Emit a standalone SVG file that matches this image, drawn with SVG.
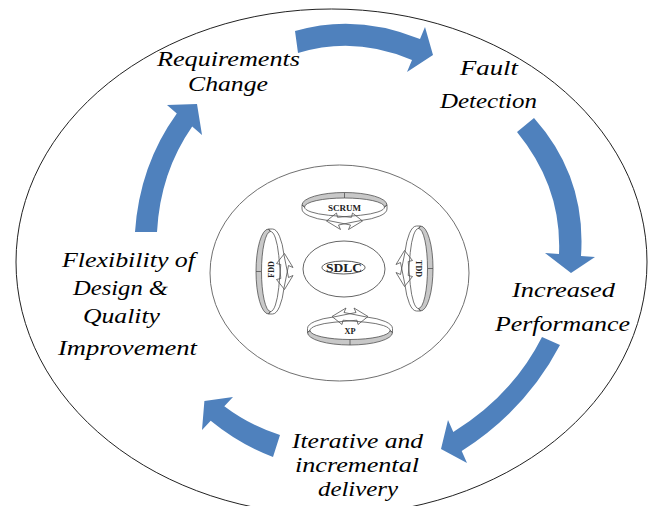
<svg xmlns="http://www.w3.org/2000/svg" xmlns:xlink="http://www.w3.org/1999/xlink" width="651" height="506" viewBox="0 0 651 506">
<style>
.lbl{font-family:"Liberation Serif","Times New Roman",serif;font-style:italic;font-size:22px;fill:#000}
.sm{font-size:20px}
.rt{font-family:"Liberation Serif","Times New Roman",serif;font-weight:bold;font-size:8px;fill:#222}
.blue{fill:#4f81bd;stroke:none}
.rl{stroke:#505050;stroke-width:0.8;fill:none}
.band{fill:#c8c8c8;stroke:#505050;stroke-width:0.8}
</style>
<defs>
<g id="ring">
<path class="band" d="M -42.5,0 A 42.5 12.5 0 0 1 42.5,0 L 40,2 A 40 9 0 0 0 -40,2 Z"/>
<path class="rl" d="M 0,-12.5 V -7"/>
<path class="rl" d="M -42.5,0 L -42.5,4 A 42.5 12.5 0 0 0 -16,15.6 L 6,20 L 4,24.5 L 18,16 L 8,8 L 7,12.3 L -16,10.25 A 40 9 0 0 1 -40,2 Z"/>
<path class="rl" d="M 42.5,0 L 42.5,4 A 42.5 12.5 0 0 1 16,15.6 L -6,20 L -4,24.5 L -18,16 L -8,8 L -7,12.3 L 16,10.25 A 40 9 0 0 0 40,2 Z"/>
</g>
</defs>
<rect width="651" height="506" fill="#fff"/>
<g id="outer">
<ellipse cx="331.5" cy="262" rx="315.5" ry="253" fill="none" stroke="#222" stroke-width="1"/>
</g>
<g id="inner">
<ellipse cx="339.5" cy="273" rx="129.5" ry="108" fill="none" stroke="#707070" stroke-width="1"/>
</g>
<g id="connectors">
<path class="blue" d="M 295,31 Q 356.5,13 420,39 L 425,27 L 433,55 L 407,72 L 412,60 Q 355,35.5 298,53 Z"/>
<path class="blue" d="M 534,118 Q 586.5,177 581,256 L 595,257 L 571,273 L 545,253 L 559,254 Q 562,187 517,132 Z"/>
<path class="blue" d="M 560,345 Q 526,410 461.7,451 L 467,463 L 441,449 L 448,420 L 453.3,432 Q 512.5,395.5 542,337 Z"/>
<path class="blue" d="M 273,457 Q 239.3,444.3 210.7,420.8 L 202,430 L 204.4,401 L 233,397 L 224.3,406.2 Q 250,425.5 280,435 Z"/>
<path class="blue" d="M 135,232 Q 139.5,165 176.8,113.4 L 167,105 L 197,104 L 202,135 L 192.2,126.6 Q 160.2,172.5 157,232 Z"/>
</g>
<g id="sdlc">
<ellipse cx="344" cy="269" rx="41" ry="28" fill="none" stroke="#555" stroke-width="0.9"/>
<ellipse cx="343.5" cy="267.5" rx="21.5" ry="6.5" fill="none" stroke="#444" stroke-width="0.9"/>
<text x="344" y="271.5" text-anchor="middle" textLength="36" lengthAdjust="spacingAndGlyphs" style="font-family:'Liberation Serif','Times New Roman',serif;font-weight:bold;font-size:12px;fill:#222">SDLC</text>
</g>
<g id="scrum">
<use xlink:href="#ring" href="#ring" transform="translate(344.5,205)"/>
<text class="rt" x="344.5" y="211" text-anchor="middle" textLength="33" lengthAdjust="spacingAndGlyphs" style="font-size:8.5px">SCRUM</text>
</g>
<g id="tdd">
<use xlink:href="#ring" href="#ring" transform="translate(420.5,268.5) rotate(90)"/>
<text class="rt" transform="translate(415.5,268.5) rotate(90)" text-anchor="middle">TDD</text>
</g>
<g id="xp">
<use xlink:href="#ring" href="#ring" transform="translate(350,332.5) rotate(180)"/>
<text class="rt" x="350" y="334" text-anchor="middle" textLength="11" lengthAdjust="spacingAndGlyphs" style="font-size:8.5px">XP</text>
</g>
<g id="fdd">
<use xlink:href="#ring" href="#ring" transform="translate(268.5,271.5) rotate(-90)"/>
<text class="rt" transform="translate(274,269.5) rotate(-90)" text-anchor="middle">FDD</text>
</g>
<g id="n-requirements">
<text class="lbl" x="157" y="66" textLength="143" lengthAdjust="spacingAndGlyphs">Requirements</text>
<text class="lbl" x="188" y="91" textLength="80" lengthAdjust="spacingAndGlyphs">Change</text>
</g>
<g id="n-fault">
<text class="lbl" x="460" y="75" textLength="58" lengthAdjust="spacingAndGlyphs">Fault</text>
<text class="lbl" x="440" y="108" textLength="97" lengthAdjust="spacingAndGlyphs">Detection</text>
</g>
<g id="n-performance">
<text class="lbl" x="512" y="297" textLength="103" lengthAdjust="spacingAndGlyphs">Increased</text>
<text class="lbl" x="495" y="331" textLength="135" lengthAdjust="spacingAndGlyphs">Performance</text>
</g>
<g id="n-iterative">
<text class="lbl sm" x="292" y="448" textLength="131" lengthAdjust="spacingAndGlyphs">Iterative and</text>
<text class="lbl sm" x="295" y="472" textLength="124" lengthAdjust="spacingAndGlyphs">incremental</text>
<text class="lbl sm" x="318" y="496" textLength="80" lengthAdjust="spacingAndGlyphs">delivery</text>
</g>
<g id="n-flexibility">
<text class="lbl" x="62" y="267" textLength="133" lengthAdjust="spacingAndGlyphs">Flexibility of</text>
<text class="lbl" x="73" y="295" textLength="95" lengthAdjust="spacingAndGlyphs">Design &amp;</text>
<text class="lbl" x="83" y="323" textLength="77" lengthAdjust="spacingAndGlyphs">Quality</text>
<text class="lbl" x="58" y="355" textLength="139" lengthAdjust="spacingAndGlyphs">Improvement</text>
</g>
</svg>
